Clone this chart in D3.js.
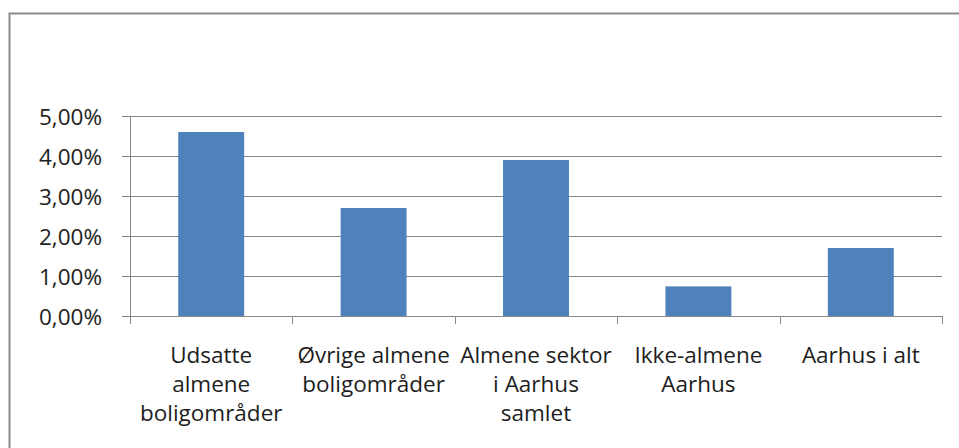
<!DOCTYPE html>
<html>
<head>
<meta charset="utf-8">
<script src="https://cdn.jsdelivr.net/npm/d3@7"></script>
<style>
  html, body { margin: 0; padding: 0; background: #fff; }
  svg { display: block; }
  text { font-family: "Open Sans", sans-serif; fill: #1e1e1e; }
</style>
</head>
<body>
<script>
// categories (line breaks as in the chart) and their values (share, in %)
var categories = [
    "Udsatte\nalmene\nboligområder",
    "Øvrige almene\nboligområder",
    "Almene sektor\ni Aarhus\nsamlet",
    "Ikke-almene\nAarhus",
    "Aarhus i alt"
];
var values = [4.6, 2.7, 3.9, 0.74, 1.7];
var yTicks = [0, 1, 2, 3, 4, 5];

var width = 959,
    height = 448,
    plot = {left: 130, right: 942, top: 116, bottom: 316},
    fontSize = 22.5,
    gridColor = "#878787",
    barColor = "#4f81bd";

var locale = d3.formatLocale({decimal: ",", thousands: ".", grouping: [3], currency: ["", " kr"]}),
    fmt = locale.format(".2f");

var svg = d3.select("body").append("svg")
    .attr("width", width)
    .attr("height", height);

// outer chart frame (runs off the right and bottom edge)
svg.append("rect")
    .attr("x", 9.5)
    .attr("y", 13.5)
    .attr("width", 1000)
    .attr("height", 1000)
    .attr("fill", "none")
    .attr("stroke", "#8c8c8c")
    .attr("stroke-width", 2);

var x = d3.scaleBand()
    .domain(categories)
    .range([plot.left, plot.right])
    .paddingInner(0.594)
    .paddingOuter(0.297);

var y = d3.scaleLinear()
    .domain([0, 5])
    .range([plot.bottom, plot.top]);

// y axis with gridlines
var yAxis = svg.append("g")
    .attr("transform", "translate(" + plot.left + ",0)")
    .call(d3.axisLeft(y)
        .tickValues(yTicks)
        .tickSize(-(plot.right - plot.left))
        .tickPadding(28)
        .tickFormat(function (d) { return fmt(d) + "%"; }));

yAxis.select(".domain").remove();
yAxis.selectAll(".tick line")
    .attr("x1", -8)
    .attr("stroke", gridColor);
yAxis.selectAll(".tick text")
    .attr("font-size", fontSize)
    .attr("font-family", "Open Sans, sans-serif")
    .attr("fill", "#1e1e1e")
    .attr("dy", "0.36em");

// vertical axis line
svg.append("line")
    .attr("x1", plot.left + 0.5)
    .attr("x2", plot.left + 0.5)
    .attr("y1", y(5))
    .attr("y2", y(0))
    .attr("stroke", gridColor);

// bars
svg.append("g").selectAll("rect")
    .data(values)
    .enter()
    .append("rect")
    .attr("x", function (d, i) { return x(categories[i]); })
    .attr("y", function (d) { return y(d); })
    .attr("width", x.bandwidth())
    .attr("height", function (d) { return y(0) - y(d); })
    .attr("fill", barColor);

// category separators on the x axis
var edges = categories.map(function (c) { return x(c) - x.step() * x.paddingOuter(); });
edges.push(plot.right);
svg.append("g").selectAll("line")
    .data(edges)
    .enter()
    .append("line")
    .attr("x1", function (d) { return Math.round(d) + 0.5; })
    .attr("x2", function (d) { return Math.round(d) + 0.5; })
    .attr("y1", plot.bottom)
    .attr("y2", plot.bottom + 8)
    .attr("stroke", gridColor);

// category labels
var labels = svg.append("g").selectAll("text")
    .data(categories)
    .enter()
    .append("text")
    .attr("text-anchor", "middle")
    .attr("font-size", fontSize)
    .attr("x", function (d) { return x(d) + x.bandwidth() / 2; })
    .attr("y", 363);

labels.each(function (d) {
    var lines = d.split("\n");
    d3.select(this).selectAll("tspan")
        .data(lines)
        .enter()
        .append("tspan")
        .attr("x", x(d) + x.bandwidth() / 2)
        .attr("dy", function (l, i) { return i === 0 ? 0 : 29; })
        .text(function (l) { return l; });
});
</script>
</body>
</html>
